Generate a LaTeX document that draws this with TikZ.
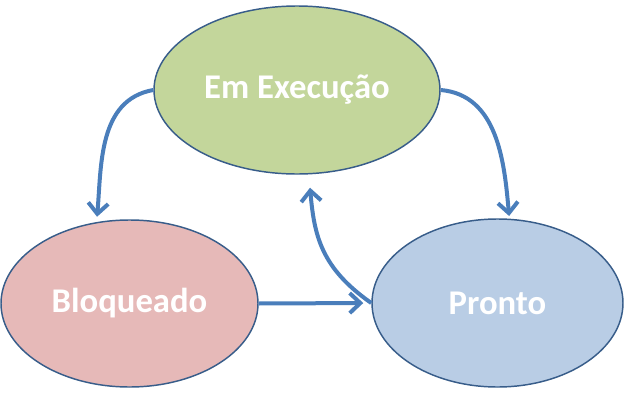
\documentclass[tikz,border=0pt]{standalone}
\usepackage{fontspec}
\setmainfont{Carlito}
\usetikzlibrary{shapes.geometric,arrows.meta}

\begin{document}
\begin{tikzpicture}[x=0.75pt,y=0.75pt,
    state/.style={ellipse, draw={rgb, 255:red, 56; green, 93; blue, 138}, line width=1.1pt, inner sep=0pt,
        text={rgb, 255:red, 255; green, 255; blue, 255}, font=\fontsize{26}{31}\selectfont\bfseries},
    flow/.style={draw={rgb, 255:red, 74; green, 126; blue, 187}, line width=3pt,
        -{Straight Barb[length=8pt,width=15pt]}}]
        \useasboundingbox (0,0) rectangle (626,-400);
        \draw (297,-90) node [state, minimum width=214.5pt, minimum height=126pt, fill={rgb, 255:red, 195; green, 214; blue, 155}] (exec) {Em Execução};
        \draw (129.5,-303.5) node [state, minimum width=192.75pt, minimum height=125.25pt, fill={rgb, 255:red, 230; green, 185; blue, 184}] (blk) {Bloqueado};
        \draw (497.5,-303) node [state, minimum width=188.25pt, minimum height=126pt, fill={rgb, 255:red, 185; green, 205; blue, 229}] (prt) {Pronto};
        \draw [flow, shorten >=4pt] (exec.west) to [out=190, in=85] (blk.112);
        \draw [flow, shorten >=2pt] (exec.east) to [out=-5, in=95] (prt.82);
        \draw [flow, shorten >=6pt] (blk.east) -- (prt.west);
        \draw [flow, shorten >=10pt] (prt.west) to [out=145, in=-85, looseness=1.1] (exec.278);
    \end{tikzpicture}
\end{document}
